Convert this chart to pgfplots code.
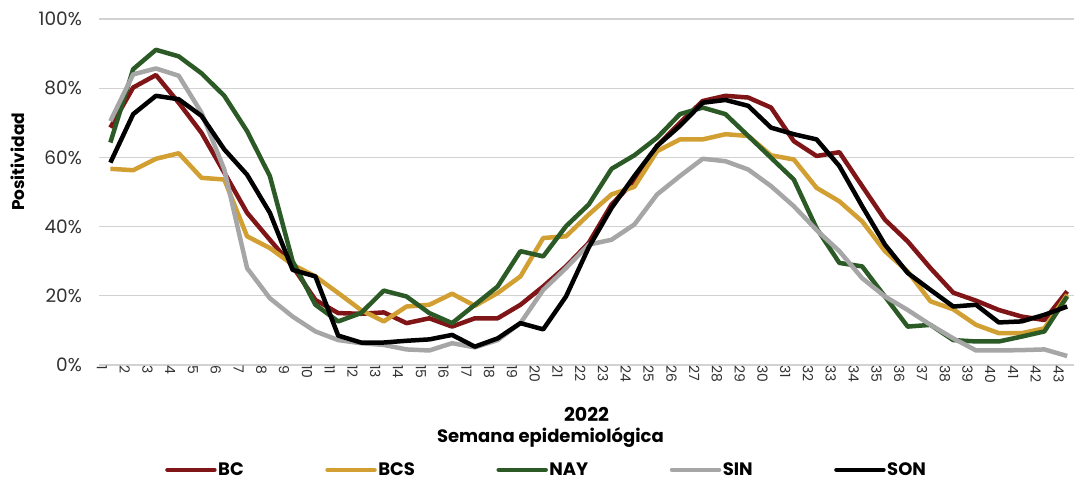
\documentclass[border=0pt]{standalone}
\usepackage{fontspec}
\setmainfont{Poppins}
\usepackage{pgfplots}
\usepackage{pgfplotstable}
\pgfplotsset{compat=1.18}
\definecolor{cBC}{RGB}{128,21,24}
\definecolor{cBCS}{RGB}{210,160,50}
\definecolor{cNAY}{RGB}{44,90,38}
\definecolor{cSIN}{RGB}{166,166,166}
\definecolor{cSON}{RGB}{0,0,0}
\definecolor{gridc}{RGB}{210,210,210}
\definecolor{txt}{RGB}{50,50,50}
\pgfplotstableread{
w BC BCS NAY SIN SON
1 68.6 56.7 64.3 70.5 58.5
2 80.2 56.3 85.5 84.0 72.5
3 83.8 59.6 91.1 85.7 77.8
4 75.8 61.2 89.2 83.6 76.8
5 67.1 54.1 84.3 72.9 72.0
6 55.6 53.6 77.8 56.5 62.3
7 44.0 37.2 67.6 28.0 55.0
8 36.2 33.8 54.6 19.3 44.0
9 28.5 29.0 30.0 14.0 27.5
10 18.8 25.6 17.4 9.7 25.6
11 15.0 20.8 12.6 7.2 8.5
12 14.8 15.9 15.0 6.3 6.5
13 15.2 12.6 21.5 5.8 6.5
14 12.1 16.9 19.8 4.5 7.0
15 13.5 17.4 15.0 4.2 7.4
16 11.1 20.6 12.1 6.3 8.7
17 13.5 17.1 17.4 5.1 5.3
18 13.5 20.8 22.7 7.2 7.7
19 17.4 25.6 32.9 12.1 12.1
20 22.7 36.7 31.4 21.7 10.3
21 28.5 37.2 40.1 28.0 19.8
22 35.3 43.5 46.4 34.8 34.0
23 46.4 49.3 56.7 36.2 45.4
24 53.1 51.5 60.6 40.6 54.6
25 63.3 61.8 65.7 49.3 63.3
26 70.0 65.2 72.5 54.6 69.1
27 76.3 65.2 74.4 59.6 75.8
28 77.8 66.7 72.5 58.9 76.6
29 77.3 66.2 66.2 56.5 74.9
30 74.4 60.6 59.9 51.7 68.6
31 64.7 59.4 53.6 45.9 66.7
32 60.4 51.2 39.5 39.0 65.2
33 61.5 47.3 29.5 32.9 57.5
34 51.7 41.5 28.5 25.1 45.9
35 42.0 32.9 19.8 19.8 34.8
36 35.7 27.0 11.1 15.9 26.6
37 28.0 18.4 11.6 11.6 21.7
38 20.9 16.1 7.2 7.7 16.9
39 18.6 11.6 6.8 4.2 17.4
40 15.9 9.2 6.8 4.2 12.3
41 14.0 9.2 8.2 4.3 12.6
42 13.0 10.6 9.7 4.5 14.5
43 21.3 20.3 19.8 2.6 16.9
}\datatable
\begin{document}
\begin{tikzpicture}
\useasboundingbox (0,0) rectangle (1074pt,480pt);
\begin{axis}[
  at={(99pt,115pt)}, anchor=south west,
  scale only axis, width=975pt, height=346pt,
  xmin=0.5, xmax=43.3, ymin=0, ymax=100,
  clip=false,
  axis line style={draw=none},
  major tick length=0pt,
  ymajorgrids,
  grid style={gridc, line width=1.3pt},
  ytick={0,20,40,60,80,100},
  yticklabels={0\%,20\%,40\%,60\%,80\%,100\%},
  yticklabel style={font=\fontsize{18.5}{21}\selectfont, text=txt, inner sep=0pt, anchor=east, xshift=-17pt},
  xtick={1,...,43},
  /pgf/number format/assume math mode=true,
  xticklabel style={font=\fontsize{14}{16}\selectfont, text=txt, rotate=-90, anchor=west, inner sep=0pt, yshift=-8.5pt},
  legend columns=5,
  legend style={at={(axis description cs:0.0677,-0.303)}, anchor=west, draw=none, fill=none, inner sep=0pt,
    font=\fontsize{18}{20}\selectfont\bfseries,
    nodes={inner sep=1.5pt},
    /tikz/every even column/.append style={column sep=80pt}},
  legend image code/.code={\draw[#1, line width=4.5pt, line cap=round] (0pt,0pt) -- (47pt,0pt);},
  every axis plot/.append style={line width=4.5pt, line join=round, no markers},
]
\addplot[cBC] table[x=w, y=BC] {\datatable};
\addplot[cBCS] table[x=w, y=BCS] {\datatable};
\addplot[cNAY] table[x=w, y=NAY] {\datatable};
\addplot[cSIN] table[x=w, y=SIN] {\datatable};
\addplot[cSON] table[x=w, y=SON] {\datatable};
\legend{BC,BCS,NAY,SIN,SON}
\node[rotate=90, font=\fontsize{17}{20}\selectfont\bfseries] at (axis description cs:-0.083,0.587) {Positividad};
\node[font=\fontsize{19}{22}\selectfont\bfseries] at (axis description cs:0.5, -0.142) {2022};
\node[font=\fontsize{18}{22}\selectfont\bfseries] at (axis description cs:0.463, -0.21) {Semana epidemiológica};
\end{axis}
\end{tikzpicture}
\end{document}
